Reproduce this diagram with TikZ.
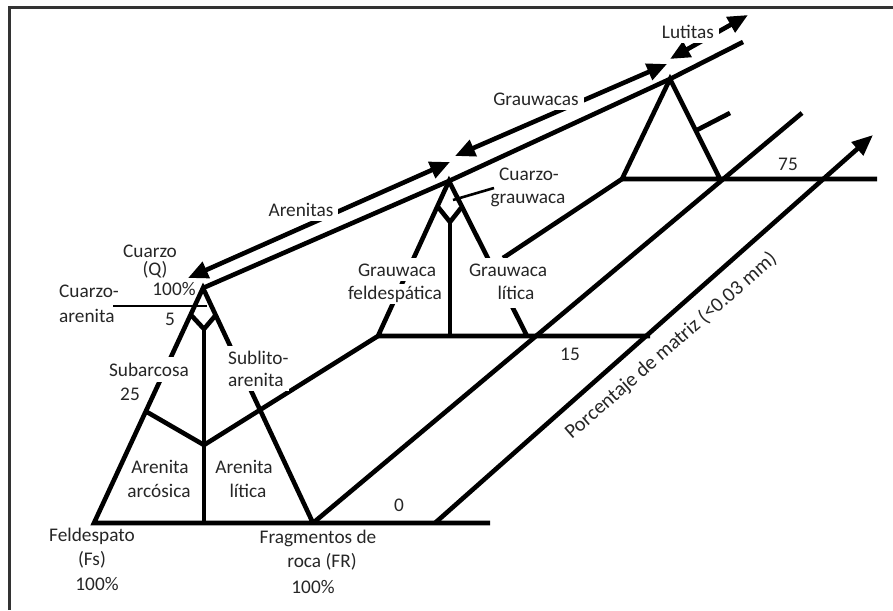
\documentclass[tikz,border=0pt]{standalone}
\usepackage{fontspec}
\setmainfont{Carlito}
\usetikzlibrary{arrows.meta}
\begin{document}
\begin{tikzpicture}[x=1pt,y=-1pt,
  edge/.style={line width=4.6pt, black},
  fine/.style={line width=2.6pt, black},
  frame/.style={line width=3pt, black!80},
  dbl/.style={edge, {Triangle[length=20pt,width=17pt]}-{Triangle[length=20pt,width=17pt]}},
  axis/.style={edge, -{Triangle[length=21pt,width=17pt]}},
  lbl/.style={font=\fontsize{19.3}{23}\selectfont, text=black!85, inner sep=0pt, anchor=base},
  cover/.style={lbl, fill=white, inner sep=5pt}]
\useasboundingbox (0,0) rectangle (893,610);

% frame
\draw[frame] (9.5,610) -- (9.5,7.5) -- (893,7.5);

% --- 0 % matrix triangle (front)
\coordinate (A0)  at (203,288);
\coordinate (Fs0) at (94,523);
\coordinate (FR0) at (313,523);
\coordinate (E0)  at (490,523);
\coordinate (D0l) at (191,315);
\coordinate (D0r) at (215,316);
\coordinate (D0b) at (204,329);
\coordinate (M0)  at (204,523);
\coordinate (C25) at (204,445);
\coordinate (L25) at (147,412);
\coordinate (Q5a) at (113,306);
\coordinate (Q5b) at (207,306);

% --- 15 % matrix triangle
\coordinate (A15)  at (449,181);
\coordinate (Fs15) at (378,336);
\coordinate (FR15) at (527,336);
\coordinate (E15)  at (650,336);
\coordinate (D15l) at (438,207);
\coordinate (D15r) at (461,208);
\coordinate (D15b) at (450,222);
\coordinate (M15)  at (450,336);
\coordinate (P1)   at (453,200);
\coordinate (P2)   at (494,188);

% --- 75 % matrix triangle
\coordinate (A75)  at (670,79);
\coordinate (Fs75) at (622,179);
\coordinate (FR75) at (720,179);
\coordinate (E75)  at (877,179);
\coordinate (T1)   at (697,130);
\coordinate (T2)   at (730,113);

% --- ridge, obliques and axis
\coordinate (R1) at (743,42);
\coordinate (B1) at (503,258);
\coordinate (O1) at (802,113);
\coordinate (X0) at (435,523);
\coordinate (X1) at (873,135);

% --- range arrows
\coordinate (ArL) at (188,278);
\coordinate (ArR) at (450,162);
\coordinate (GrL) at (455,156);
\coordinate (GrR) at (667,64);
\coordinate (LuL) at (670,59);
\coordinate (LuR) at (748,15);

% triangles
\draw[edge] (E0) -- (Fs0) -- (A0) -- (FR0);
\draw[edge] (E15) -- (Fs15) -- (A15) -- (FR15);
\draw[edge] (E75) -- (Fs75) -- (A75) -- (FR75);

% inner divisions
\draw[edge] (D0l) -- (D0b) -- (D0r);
\draw[edge] (D0b) -- (M0);
\draw[edge] (L25) -- (C25) -- (Fs15);
\draw[edge] (D15l) -- (D15b) -- (D15r);
\draw[edge] (D15b) -- (M15);
\draw[edge] (T1) -- (T2);
\draw[fine] (Q5a) -- (Q5b);
\draw[fine] (P1) -- (P2);

% ridge and oblique lines
\draw[edge] (A0) -- (A15) -- (A75) -- (R1);
\draw[edge] (B1) -- (Fs75);
\draw[edge] (FR0) -- (O1);
\draw[axis] (X0) -- (X1);

% range arrows
\draw[dbl] (ArL) -- (ArR);
\draw[dbl] (GrL) -- (GrR);
\draw[dbl] (LuL) -- (LuR);

% labels lying over lines
\node[cover] (arenitas) at (301,216) {Arenitas};
\node[cover] (grauwacas) at (536,105) {Grauwacas};
\node[cover] (lutitas) at (688,38) {Lutitas};
\node[cover, inner sep=6pt] (subarcosa) at (149,376) {Subarcosa};
\node[cover, anchor=base west] (sublito) at (223,364) {Sublito-};
\node[cover, anchor=base west] (sublitoB) at (223,386) {arenita};
\node[cover] (gfeld) at (397,276) {Grauwaca};
\node[cover, inner ysep=2pt] (gfeldB) at (395,299) {feldespática};
\node[cover] (glit) at (508,276) {Grauwaca};
\node[cover, inner ysep=9pt] (glitB) at (516,299) {lítica};

% other labels
\node[lbl] (cuarzo) at (150,257) {Cuarzo};
\node[lbl] (cuarzoQ) at (155,275) {(Q)};
\node[lbl] (cuarzoP) at (174,295) {100\%};
\node[lbl, anchor=base west] (carA) at (59,297) {Cuarzo-};
\node[lbl, anchor=base west] (carB) at (59,322) {arenita};
\node[lbl] (v5) at (170,325) {5};
\node[lbl] (v25) at (130,400) {25};
\node[lbl] (aarc) at (160,473) {Arenita};
\node[lbl] (aarcB) at (159,497) {arcósica};
\node[lbl] (alit) at (244,473) {Arenita};
\node[lbl] (alitB) at (248,497) {lítica};
\node[lbl] (v0) at (399,511) {0};
\node[lbl] (fs) at (92,541) {Feldespato};
\node[lbl] (fsB) at (92,565) {(Fs)};
\node[lbl] (fsC) at (97,590) {100\%};
\node[lbl] (fr) at (318,543) {Fragmentos de};
\node[lbl] (frB) at (322,567) {roca (FR)};
\node[lbl] (frC) at (313,593) {100\%};
\node[lbl] (cgA) at (529,180) {Cuarzo-};
\node[lbl] (cgB) at (528,203) {grauwaca};
\node[lbl] (v15) at (570,360) {15};
\node[lbl] (v75) at (788,170) {75};
\node[lbl, anchor=center, rotate=41, font=\fontsize{20.5}{24}\selectfont] (matriz) at (671,346) {Porcentaje de matriz (<0.03 mm)};
\end{tikzpicture}
\end{document}
